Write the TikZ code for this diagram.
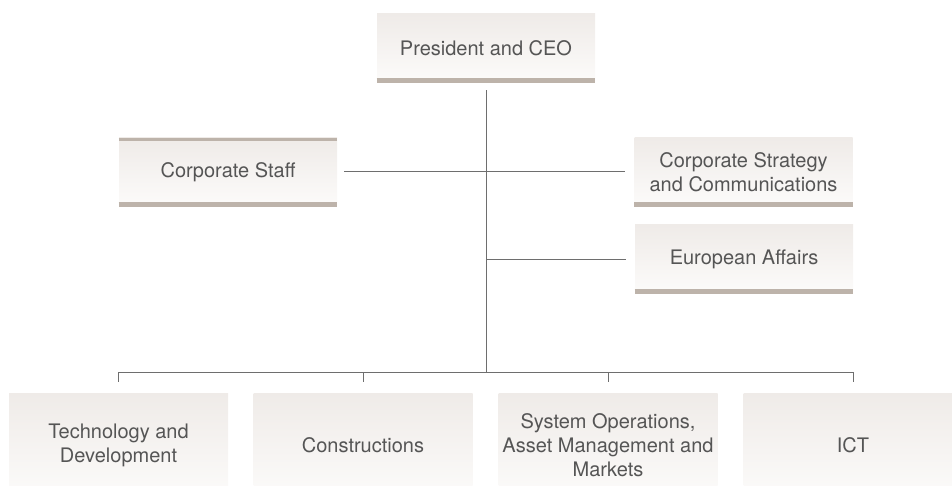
\documentclass[tikz,border=0pt]{standalone}
\usepackage{fontspec}
\setmainfont{TeX Gyre Heros}
\usetikzlibrary{calc}

\definecolor{boxtop}{HTML}{EFEBE8}
\definecolor{boxbot}{HTML}{FCFBFA}
\definecolor{barcol}{HTML}{BDB3AA}
\definecolor{linecol}{HTML}{6E6E6E}
\definecolor{textcol}{HTML}{555555}

\tikzset{
  unit/.style={inner sep=0pt, top color=boxtop, bottom color=boxbot,
    draw=none, text=textcol, align=center,
    font=\fontsize{10}{12}\selectfont},
  topunit/.style={unit, minimum width=109pt, minimum height=34pt},
  lowunit/.style={unit, minimum width=109.5pt, minimum height=52pt},
  bar/.style={draw=barcol, line width=2.2pt},
  thinbar/.style={draw=barcol, line width=1.5pt},
  link/.style={draw=linecol, line width=0.5pt}
}

\begin{document}
\begin{tikzpicture}[x=0.5pt, y=-0.5pt]

   \useasboundingbox (0,0) rectangle (952,486);

   % top of the tree
   \node[topunit] (ceo) at (486,48) {President and CEO};
   \node[topunit] (staff) at (228,172) {Corporate Staff};
   \node[topunit] (strategy) at (743.5,172) {Corporate Strategy\\and Communications};
   \node[topunit] (europe) at (744,259) {European Affairs};

   \draw[bar] ([yshift=1pt]ceo.south west) -- ([yshift=1pt]ceo.south east);
   \draw[thinbar] ([yshift=-0.75pt]staff.north west) -- ([yshift=-0.75pt]staff.north east);
   \draw[bar] ([yshift=1pt]staff.south west) -- ([yshift=1pt]staff.south east);
   \draw[bar] ([yshift=1pt]strategy.south west) -- ([yshift=1pt]strategy.south east);
   \draw[bar] ([yshift=1pt]europe.south west) -- ([yshift=1pt]europe.south east);

   % divisions
   \node[lowunit] (tech) at (118.5,445) {Technology and\\Development};
   \node[lowunit] (constr) at (363,445) {Constructions};
   \node[lowunit] (sysops) at (608,445) {System Operations,\\Asset Management and\\Markets};
   \node[lowunit] (ict) at (853,445) {ICT};

   \coordinate (bus) at (486,372);

   \draw[link, shorten <=4pt] (ceo.south) -- (bus);
   \draw[link, shorten <=3.5pt, shorten >=4.5pt] (staff.east) -- (strategy.west);
   \draw[link, shorten >=4.5pt] (europe.west -| ceo.south) -- (europe.west);
   \draw[link] (tech.north |- bus) -- (ict.north |- bus);

   \foreach \n in {tech,constr,sysops,ict}
      \draw[link, shorten >=5.5pt] (\n.north |- bus) -- (\n.north);

\end{tikzpicture}
\end{document}
